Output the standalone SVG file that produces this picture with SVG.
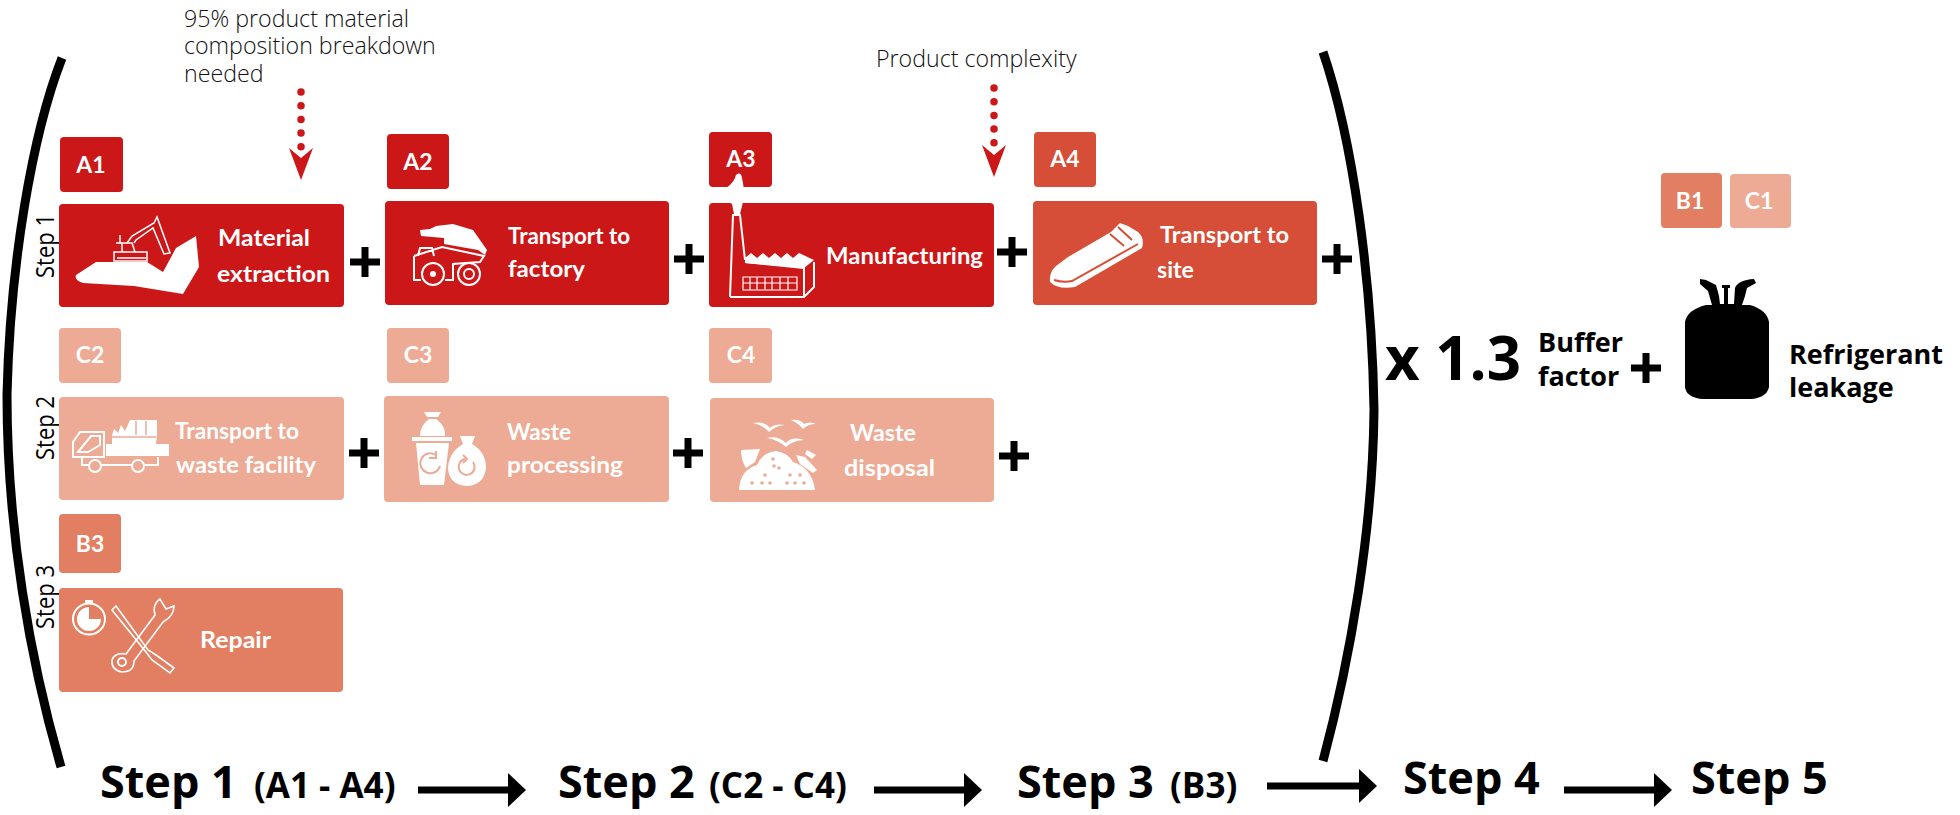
<svg xmlns="http://www.w3.org/2000/svg" width="1960" height="815" viewBox="0 0 1960 815">
<defs>
<marker id="head" markerUnits="userSpaceOnUse" markerWidth="20" markerHeight="36" refX="0" refY="17" orient="auto"><path d="M0 0L18 17L0 34Z" fill="#000"/></marker>
<path id="plus" d="M-15 -3.5H-3.5V-15H3.5V-3.5H15V3.5H3.5V15H-3.5V3.5H-15Z" fill="#000"/>
</defs>
<style>
text{font-family:"Open Sans","Liberation Sans",sans-serif}
.a{fill:#cc1719}.d{fill:#d64e37}.c{fill:#edab96}.b{fill:#e27f62}
.lbl{font-family:Lato,"Liberation Sans",sans-serif;font-weight:700;font-size:22px;fill:#fff}
.bt{font-family:Lato,"Liberation Sans",sans-serif;font-weight:700;font-size:23px;fill:#fff;text-anchor:middle}
.note{font-weight:300;font-size:23.2px;fill:#111}
.side{font-size:22px;fill:#000}
.big{font-weight:700;font-size:45px;fill:#000}
.par{font-weight:700;font-size:35px;fill:#000}
.blk{font-weight:700;font-size:27px;fill:#000}
.ln{fill:none;stroke:#fff;stroke-width:2}
.w{fill:#fff}
.conn{stroke:#000;stroke-width:7;fill:none}
.dots{stroke:#cc1719;stroke-width:7.5;stroke-linecap:round;stroke-dasharray:0 13.7;fill:none}
.br{fill:none;stroke:#000;stroke-width:9}
</style>

<g id="brackets">
<path class="br" d="M62 58C32 135 10 265 7 395C7 530 30 660 61 767"/>
<path class="br" d="M1323 52C1353 140 1372 280 1374 410C1373 530 1350 660 1323 761"/>
</g>

<g id="note-material"><text class="note" x="184" y="27">95% product material</text><text class="note" x="184" y="54">composition breakdown</text><text class="note" x="184" y="82">needed</text></g>
<g id="note-complexity"><text class="note" x="876" y="67">Product complexity</text></g>

<g id="step-labels">
<text class="side" transform="translate(54 278) rotate(-90) scale(1 1.18)">Step 1</text>
<text class="side" transform="translate(54 460) rotate(-90) scale(1 1.18)">Step 2</text>
<text class="side" transform="translate(54 629) rotate(-90) scale(1 1.18)">Step 3</text>
</g>

<g id="A1">
<rect class="a" x="60" y="137" width="63" height="55" rx="4"/><text class="bt" x="91" y="173">A1</text>
<rect class="a" x="59" y="204" width="285" height="103" rx="4"/>
<path class="w" d="M76 275L96 262H147L163 272L176 248L196 236L199 267L183 294L134 286L83 283Q74 280 76 275Z"/>
<path class="ln" style="stroke-width:1.5" d="M114 252H147V261H114ZM116 243H132L135 252M122 243V252M127 243L132 236L154 223L157 217L170 253L164 254L153 228L136 240L134 243M120 243V235M117 258H146"/>
<text class="lbl" x="218" y="246" textLength="92" lengthAdjust="spacingAndGlyphs">Material</text>
<text class="lbl" x="217" y="282" textLength="113" lengthAdjust="spacingAndGlyphs">extraction</text>
</g>

<g id="A2">
<rect class="a" x="387" y="134" width="62" height="55" rx="4"/><text class="bt" x="418" y="170">A2</text>
<rect class="a" x="385" y="201" width="284" height="104" rx="4"/>
<path class="w" d="M420 230L430 229L436 226L453 224L473 230L487 250L485 255L478 250L444 244L444 238L421 236Z"/>
<path class="ln" d="M414 256L442 247L484 256L480 262L453 264V280H445M414 256V280H421M418 256L420 248H432L434 256"/>
<circle class="ln" cx="433" cy="274" r="11"/><circle class="ln" cx="469" cy="274" r="11"/>
<circle class="w" cx="433" cy="274" r="3"/><circle class="ln" cx="469" cy="274" r="5"/>
<text class="lbl" x="508" y="244" textLength="122" lengthAdjust="spacingAndGlyphs">Transport to</text>
<text class="lbl" x="508" y="277" textLength="77" lengthAdjust="spacingAndGlyphs">factory</text>
</g>

<g id="A3">
<rect class="a" x="709" y="132" width="63" height="55" rx="4"/><text class="bt" x="741" y="167">A3</text>
<rect class="a" x="709" y="203" width="285" height="104" rx="4"/>
<path class="w" d="M734 214L732 204Q722 198 726 188Q734 183 736 175Q741 171 742 178Q745 190 743 202L740 214Z"/>
<path class="ln" d="M730 297L733 215H740L745 260M730 297H804L814 287V262M804 297V268L745 262"/>
<path class="w" d="M745 258L751 253L757 258L763 253L769 258L775 253L781 258L787 253L793 258L799 253L814 260L804 268L745 263Z"/>
<path class="ln" style="stroke-width:1.2" d="M743 277H797V290H743ZM743 283H797M750 277V290M757 277V290M765 277V290M772 277V290M780 277V290M788 277V290"/>
<text class="lbl" x="826" y="264" textLength="157" lengthAdjust="spacingAndGlyphs">Manufacturing</text>
</g>

<g id="A4">
<rect class="d" x="1034" y="132" width="62" height="55" rx="4"/><text class="bt" x="1065" y="167">A4</text>
<rect class="d" x="1033" y="201" width="284" height="104" rx="4"/>
<path class="w" d="M1050 282Q1049 272 1056 266L1068 257L1111 232L1120 223L1128 226L1138 232Q1145 238 1142 248L1075 287Q1058 290 1050 282Z"/>
<path fill="none" stroke="#d64e37" stroke-width="2" d="M1054 280Q1064 283 1072 281L1138 244M1118 227L1132 240M1110 234L1124 246"/>
<text class="lbl" x="1160" y="243" textLength="129" lengthAdjust="spacingAndGlyphs">Transport to</text>
<text class="lbl" x="1157" y="278" textLength="37" lengthAdjust="spacingAndGlyphs">site</text>
</g>

<g id="C2">
<rect class="c" x="59" y="328" width="62" height="55" rx="4"/><text class="bt" x="90" y="363">C2</text>
<rect class="c" x="59" y="397" width="285" height="103" rx="4"/>
<path class="ln" d="M73 457V442L80 432H104V457ZM78 452L91 436H100V445L88 452Z"/>
<path class="w" d="M106 444H169V456H106ZM112 435L114 429L118 433L121 425L125 431L130 420H157V435L156 444H112Z"/>
<path fill="none" stroke="#edab96" stroke-width="1.5" d="M136 421V435M146 421V435M112 437H156"/>
<path class="ln" d="M82 457V465H158V457"/>
<circle class="c" cx="95" cy="466" r="6"/><circle class="ln" cx="95" cy="466" r="6"/>
<circle class="c" cx="138" cy="466" r="6"/><circle class="ln" cx="138" cy="466" r="6"/>
<text class="lbl" x="175" y="439" textLength="124" lengthAdjust="spacingAndGlyphs">Transport to</text>
<text class="lbl" x="176" y="473" textLength="140" lengthAdjust="spacingAndGlyphs">waste facility</text>
</g>

<g id="C3">
<rect class="c" x="387" y="328" width="62" height="55" rx="4"/><text class="bt" x="418" y="363">C3</text>
<rect class="c" x="384" y="396" width="285" height="106" rx="4"/>
<path class="w" d="M424 412H441L438 417H427ZM429 419H436Q446 426 445 436H420Q420 426 429 419ZM412 437H452V441H412ZM416 443H449L444 485H420Z"/>
<path class="w" d="M460 436H475L472 444Q486 452 486 468Q484 485 467 486Q449 485 448 468Q449 452 463 444Z"/>
<path fill="none" stroke="#edab96" stroke-width="2" d="M436 455A10 10 0 1 0 440 466M436 451V458H429M473 462A8 8 0 1 1 465 459M463 455L467 459L463 463"/>
<text class="lbl" x="507" y="440" textLength="64" lengthAdjust="spacingAndGlyphs">Waste</text>
<text class="lbl" x="507" y="473" textLength="116" lengthAdjust="spacingAndGlyphs">processing</text>
</g>

<g id="C4">
<rect class="c" x="709" y="328" width="63" height="55" rx="4"/><text class="bt" x="741" y="363">C4</text>
<rect class="c" x="710" y="398" width="284" height="104" rx="4"/>
<path class="w" d="M753 423Q765 421 770 428Q775 423 785 425Q775 426 769 432Q763 425 753 423ZM791 420Q800 419 804 424Q810 421 816 424Q808 424 803 429Q798 423 791 420ZM767 438Q778 435 786 443Q792 436 804 440Q794 440 786 447Q778 440 767 438Z"/>
<path class="w" d="M739 490Q740 470 757 465Q763 452 776 451Q788 453 793 462Q812 468 815 490Z"/>
<path class="w" d="M741 450L760 449L755 462L746 468Q741 460 741 450ZM807 450L816 455L812 459L805 454ZM796 455L805 457L817 470L813 473L800 464Z"/>
<g class="c"><circle cx="773" cy="459" r="1.8"/><circle cx="774" cy="466" r="1.8"/><circle cx="779" cy="468" r="1.8"/><circle cx="765" cy="475" r="1.8"/><circle cx="790" cy="475" r="1.8"/><circle cx="800" cy="475" r="1.8"/><circle cx="752" cy="483" r="1.8"/><circle cx="762" cy="483" r="1.8"/><circle cx="770" cy="483" r="1.8"/><circle cx="787" cy="483" r="1.8"/><circle cx="795" cy="483" r="1.8"/><circle cx="804" cy="483" r="1.8"/></g>
<text class="lbl" x="850" y="441" textLength="66" lengthAdjust="spacingAndGlyphs">Waste</text>
<text class="lbl" x="844" y="476" textLength="91" lengthAdjust="spacingAndGlyphs">disposal</text>
</g>

<g id="B3">
<rect class="b" x="59" y="514" width="62" height="59" rx="4"/><text class="bt" x="90" y="552">B3</text>
<rect class="b" x="59" y="588" width="284" height="104" rx="4"/>
<ellipse class="ln" cx="89" cy="619" rx="16" ry="15.5"/>
<path class="w" d="M89 607A12 12 0 1 0 101 619H89ZM85 600H93V603H85Z"/>
<path class="ln" style="stroke-width:1.6" d="M112 610L116 606L148 650L156 655L174 668L170 673L152 660L146 652Z"/>
<path class="ln" style="stroke-width:1.6" d="M126 654L155 615Q152 604 160 599L166 609L174 606Q174 616 163 622L134 661Q134 672 122 672Q111 670 112 660Q115 652 126 654Z"/>
<circle class="ln" cx="122" cy="662" r="4"/>
<text class="lbl" x="200" y="648" textLength="71" lengthAdjust="spacingAndGlyphs">Repair</text>
</g>

<g id="B1"><rect class="b" x="1661" y="173" width="61" height="55" rx="4"/><text class="bt" x="1690" y="209">B1</text></g>
<g id="C1"><rect class="c" x="1730" y="174" width="61" height="54" rx="4"/><text class="bt" x="1759" y="209">C1</text></g>

<g id="plus-signs">
<use href="#plus" x="365" y="262"/><use href="#plus" x="689" y="259"/><use href="#plus" x="1012" y="252"/><use href="#plus" x="1337" y="259"/>
<use href="#plus" x="364" y="453"/><use href="#plus" x="688" y="453"/><use href="#plus" x="1014" y="456"/><use href="#plus" x="1646" y="368"/>
</g>

<g id="buffer">
<text x="1385" y="380" font-weight="700" font-size="60" fill="#000">x 1.3</text>
<text class="blk" x="1538" y="352">Buffer</text><text class="blk" x="1538" y="386">factor</text>
</g>

<g id="refrigerant">
<path fill="#000" d="M1685 322Q1687 310 1706 305L1712 305L1708 291L1700 284L1700 279L1706 280L1716 285L1719 296L1720 304L1724 304V288H1722V285H1730V288H1728V304H1734L1735 288Q1738 280 1754 279L1756 283L1747 288L1745 296L1742 305H1750Q1767 310 1769 322V387Q1767 397 1752 399H1702Q1686 397 1685 387Z"/>
<text class="blk" x="1789" y="364">Refrigerant</text><text class="blk" x="1789" y="397">leakage</text>
</g>

<g id="steps">
<text class="big" x="100" y="798">Step 1</text><text class="par" x="254" y="798">(A1 - A4)</text>
<text class="big" x="558" y="798">Step 2</text><text class="par" x="709" y="798">(C2 - C4)</text>
<text class="big" x="1017" y="798">Step 3</text><text class="par" x="1170" y="798">(B3)</text>
<text class="big" x="1403" y="794">Step 4</text>
<text class="big" x="1691" y="794">Step 5</text>
</g>

<g id="connectors">
<path class="conn" d="M418 790H508" marker-end="url(#head)"/>
<path class="conn" d="M874 790H964" marker-end="url(#head)"/>
<path class="conn" d="M1267 786H1359" marker-end="url(#head)"/>
<path class="conn" d="M1564 790H1654" marker-end="url(#head)"/>
<path class="dots" d="M301 92V150"/>
<path fill="#cc1719" d="M289 148L301 158L313 148L301 180Z"/>
<path class="dots" d="M994 88V146"/>
<path fill="#cc1719" d="M982 145L994 155L1006 145L994 177Z"/>
</g>
</svg>
